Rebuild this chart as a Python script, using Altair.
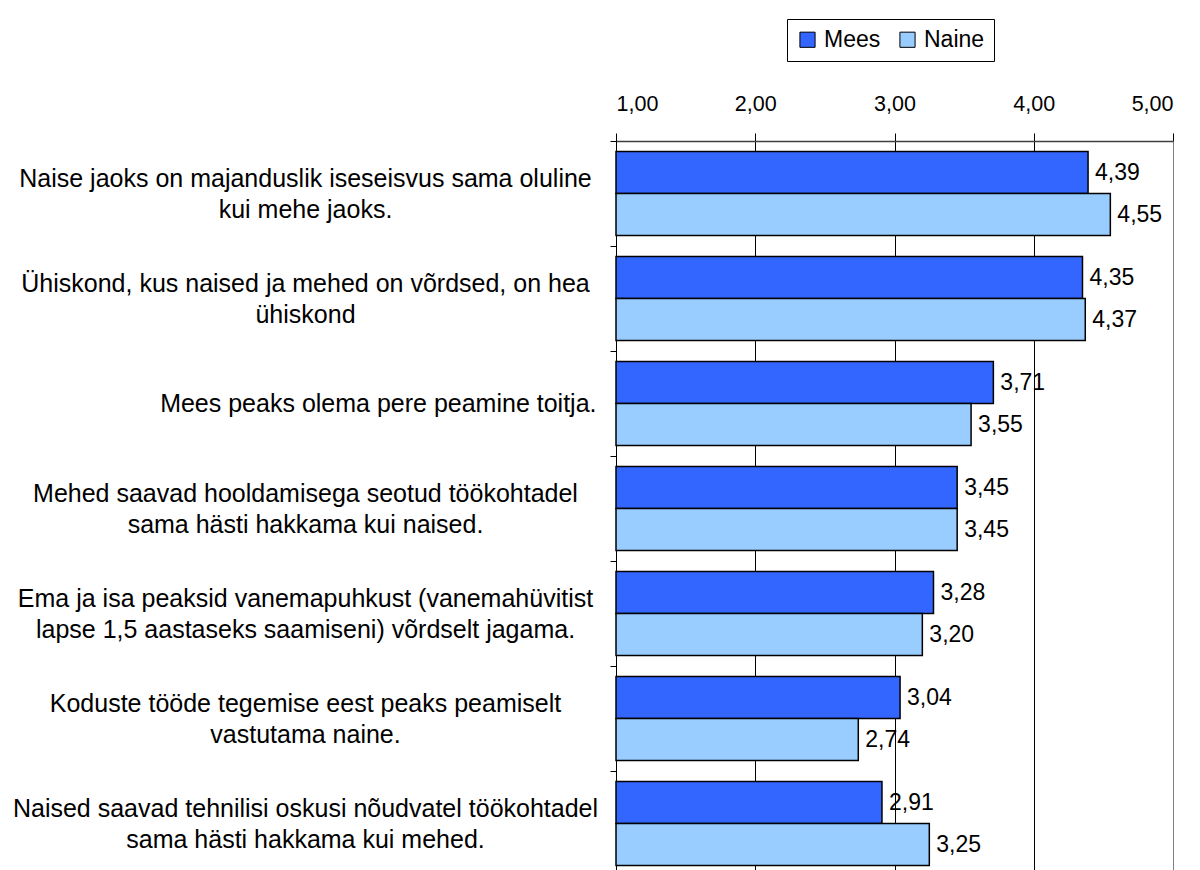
import altair as alt
import pandas as pd

categories = [
    "Naise jaoks on majanduslik iseseisvus sama oluline|kui mehe jaoks.",
    "Ühiskond, kus naised ja mehed on võrdsed, on hea|ühiskond",
    "Mees peaks olema pere peamine toitja.",
    "Mehed saavad hooldamisega seotud töökohtadel|sama hästi hakkama kui naised.",
    "Ema ja isa peaksid vanemapuhkust (vanemahüvitist|lapse 1,5 aastaseks saamiseni) võrdselt jagama.",
    "Koduste tööde tegemise eest peaks peamiselt|vastutama naine.",
    "Naised saavad tehnilisi oskusi nõudvatel töökohtadel|sama hästi hakkama kui mehed.",
]
mees = [4.39, 4.35, 3.71, 3.45, 3.28, 3.04, 2.91]
naine = [4.55, 4.37, 3.55, 3.45, 3.20, 2.74, 3.25]
series = ["Mees", "Naine"]
colors = ["#3366FF", "#99CCFF"]
x_ticks = [1, 2, 3, 4, 5]

rows = []
for c, m, n in zip(categories, mees, naine):
    rows.append({"cat": c, "sex": "Mees", "value": m})
    rows.append({"cat": c, "sex": "Naine", "value": n})
df = pd.DataFrame(rows)

FONT = "Liberation Sans"
MULTI = "indexof(datum.label, '|') >= 0"
LINE_H = 31

y_enc = alt.Y(
    "cat:N",
    sort=categories,
    scale=alt.Scale(paddingInner=0, paddingOuter=0),
    axis=alt.Axis(
        title=None,
        tickBand="extent",
        tickSize=6,
        tickColor="black",
        domainColor="black",
        labelAlign={"condition": {"test": MULTI, "value": "center"}, "value": "right"},
        labelPadding={"condition": {"test": MULTI, "value": 305}, "value": 14},
        labelOffset={"condition": {"test": MULTI, "value": -LINE_H / 2}, "value": 0},
        labelLimit=0,
        labelFont=FONT,
        labelFontSize=25,
        labelColor="black",
        labelLineHeight=LINE_H,
        labelExpr="split(datum.label, '|')",
    ),
)
yoff = alt.YOffset("sex:N", sort=series, scale=alt.Scale(paddingInner=0, paddingOuter=0.25))

x_scale = alt.Scale(domain=[1, 5], nice=False, zero=False)

bars = alt.Chart(df).mark_bar(stroke="black", strokeWidth=1.5).encode(
    x=alt.X(
        "value:Q",
        scale=x_scale,
        axis=alt.Axis(
            orient="top",
            title=None,
            values=x_ticks,
            labelExpr="replace(format(datum.value, '.2f'), '.', ',')",
            tickSize=8,
            tickColor="black",
            domainColor="#404040",
            domainWidth=1.5,
            grid=True,
            gridColor={"condition": {"test": "datum.value === 5", "value": "#808080"}, "value": "black"},
            gridWidth=1,
            labelFont=FONT,
            labelFontSize=21.5,
            labelColor="black",
            labelPadding=18,
        ),
    ),
    x2=alt.datum(1),
    y=y_enc,
    yOffset=yoff,
    color=alt.Color(
        "sex:N",
        sort=series,
        scale=alt.Scale(domain=series, range=colors),
        legend=alt.Legend(
            title=None,
            orient="none",
            direction="horizontal",
            legendX=171,
            legendY=-122,
            symbolType="square",
            symbolSize=230,
            symbolStrokeColor="black",
            symbolStrokeWidth=1,
            symbolOpacity=1,
            labelFont=FONT,
            labelFontSize=23,
            labelColor="black",
            strokeColor="black",
            padding=9,
            columnPadding=15,
            labelOffset=5,
        ),
    ),
)

labels = alt.Chart(df).mark_text(
    align="left", baseline="middle", dx=7, font=FONT, fontSize=23, color="black"
).encode(
    x=alt.X("value:Q", scale=x_scale),
    y=alt.Y("cat:N", sort=categories),
    yOffset=yoff,
    text=alt.Text("label:N"),
).transform_calculate(
    label="replace(format(datum.value, '.2f'), '.', ',')"
)

chart = (
    alt.layer(bars, labels)
    .properties(
        width=557,
        height=735,
        autosize=alt.AutoSizeParams(type="none"),
        padding={"left": 608, "top": 133, "right": 19, "bottom": 0},
    )
    .configure_view(stroke=None)
    .configure(background="white")
)

chart.save("out.html", embed_options={"renderer": "svg", "actions": False})
